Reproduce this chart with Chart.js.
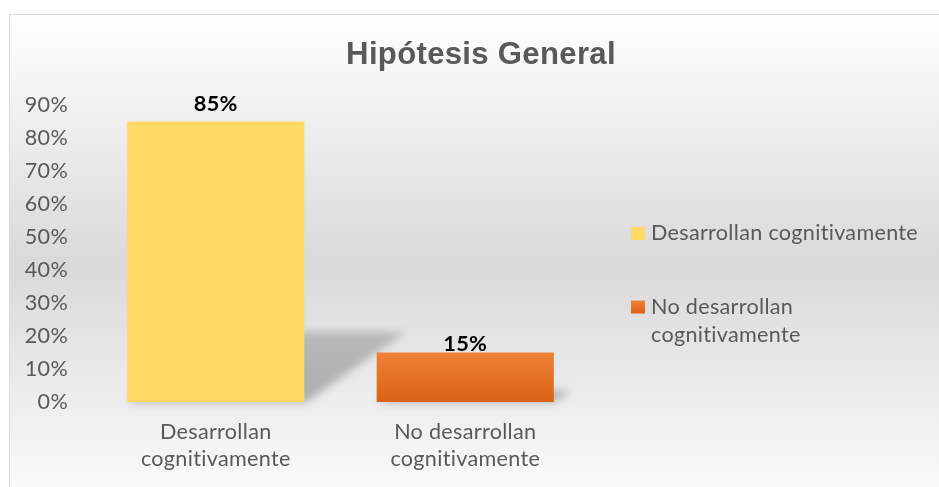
<!DOCTYPE html>
<html><head><meta charset="utf-8">
<script src="https://cdn.jsdelivr.net/npm/chart.js@4.4.0/dist/chart.umd.min.js"></script>
<style>
html,body{margin:0;padding:0;width:939px;height:487px;overflow:hidden;background:#fff;}
#bg{position:absolute;left:9px;top:14px;width:940px;height:480px;border-top:1px solid #d9d9d9;border-left:1px solid #d9d9d9;background:linear-gradient(to bottom,#ffffff 0%,#d9d9d9 52%,#fbfbfb 100%);}
#wrap{position:absolute;left:0;top:0;width:939px;height:487px;}
</style></head><body>
<div id="bg"></div>
<div id="wrap"><canvas id="c" width="939" height="487"></canvas></div>
<script>
const chartTitle = 'Hipótesis General';
const categories = [['Desarrollan','cognitivamente'],['No desarrollan','cognitivamente']];
const legendLabels = [['Desarrollan cognitivamente'],['No desarrollan','cognitivamente']];
const values = [85, 15];
const yMax = 90;
const yStep = 10;

const FAMILY = 'Lato, "Liberation Sans", sans-serif';
const TITLE_FAMILY = '"Liberation Sans", Arial, sans-serif';
const SPACING = '0.3px';
function fitSize(text, weight, family, target){
  const c = document.createElement('canvas').getContext('2d');
  c.letterSpacing = SPACING;
  c.font = weight + ' 100px ' + family;
  const w100 = c.measureText(text).width;
  c.font = weight + ' 22px ' + family;
  // refine with spacing accounted at approx size
  const w22 = c.measureText(text).width;
  const perPx = w22 / 22;
  return target / perPx;
}
const bodySize = fitSize('Desarrollan cognitivamente', 'normal', FAMILY, 267);
const labelSize = fitSize('85%', 'bold', FAMILY, 44);
const titleSize = fitSize(chartTitle, 'bold', TITLE_FAMILY, 272);
const textColor = '#595959';

function orangeGrad(ctx, top, bot){
  const g = ctx.createLinearGradient(0, top, 0, bot);
  g.addColorStop(0, '#EE8236');
  g.addColorStop(1, '#DA6114');
  return g;
}
const yellow = '#FFD966';

const spacingPlugin = {
  id: 'spacing',
  beforeDraw(chart){ chart.ctx.letterSpacing = SPACING; }
};

const titlePlugin = {
  id: 'centerTitle',
  afterDraw(chart, args, opts){
    const ctx = chart.ctx;
    ctx.save();
    ctx.font = 'bold ' + titleSize + 'px ' + TITLE_FAMILY;
    ctx.fillStyle = textColor;
    ctx.textAlign = 'center';
    ctx.textBaseline = 'middle';
    ctx.fillText(chartTitle, opts.x, opts.y);
    ctx.restore();
  }
};

const shadowPlugin = {
  id: 'barShadow',
  beforeDatasetsDraw(chart){
    const ctx = chart.ctx;
    const meta = chart.getDatasetMeta(0);
    ctx.save();
    ctx.filter = 'blur(4px)';
    meta.data.forEach(bar => {
      const base = bar.base, h = base - bar.y, w = bar.width;
      const top = base - h * 0.25, skew = h * 0.36;
      const g = ctx.createLinearGradient(0, top, 0, base);
      g.addColorStop(0, 'rgba(0,0,0,0.19)');
      g.addColorStop(1, 'rgba(0,0,0,0.27)');
      ctx.fillStyle = g;
      ctx.beginPath();
      ctx.moveTo(bar.x - w/2, base);
      ctx.lineTo(bar.x + w/2 + 2, base);
      ctx.lineTo(bar.x + w/2 + skew, top);
      ctx.lineTo(bar.x - w/2 + skew, top);
      ctx.closePath();
      ctx.fill();
    });
    ctx.restore();
  }
};

const labelPlugin = {
  id: 'valLabels',
  afterDatasetsDraw(chart, args, opts){
    const ctx = chart.ctx;
    const meta = chart.getDatasetMeta(0);
    ctx.save();
    ctx.font = 'bold ' + labelSize + 'px ' + FAMILY;
    ctx.fillStyle = '#000';
    ctx.textAlign = 'center';
    ctx.textBaseline = 'middle';
    meta.data.forEach((bar, i) => {
      ctx.fillText(values[i] + '%', bar.x, bar.y - opts.offsets[i]);
    });
    ctx.restore();
  }
};

const legendPlugin = {
  id: 'sideLegend',
  afterDraw(chart, args, opts){
    const ctx = chart.ctx;
    ctx.save();
    ctx.font = bodySize + 'px ' + FAMILY;
    ctx.textBaseline = 'middle';
    ctx.textAlign = 'left';
    legendLabels.forEach((lines, i) => {
      const y0 = opts.itemY[i];
      const bx = opts.x, by = y0 - 6.5;
      ctx.fillStyle = i === 0 ? yellow : orangeGrad(ctx, by, by + 13);
      ctx.fillRect(bx, by, 14, 13);
      ctx.fillStyle = textColor;
      lines.forEach((t, j) => ctx.fillText(t, bx + 20, y0 + j * opts.lineGap));
    });
    ctx.restore();
  }
};

new Chart(document.getElementById('c'), {
  type: 'bar',
  data: {
    labels: categories,
    datasets: [{
      data: values,
      backgroundColor: (c) => {
        if (c.dataIndex === 0) return yellow;
        const ch = c.chart;
        if (!ch.chartArea || !ch.scales.y) return '#E46C0A';
        const y = ch.scales.y;
        return orangeGrad(ch.ctx, y.getPixelForValue(values[1]), y.getPixelForValue(0));
      },
      borderWidth: 0,
      categoryPercentage: 1,
      barPercentage: 0.71
    }]
  },
  options: {
    responsive: false,
    animation: false,
    devicePixelRatio: 1,
    layout: { padding: { left: 0, right: 349, top: 105, bottom: 0 } },
    plugins: {
      legend: { display: false },
      tooltip: { enabled: false },
      title: { display: false },
      centerTitle: { x: 481, y: 55 },
      valLabels: { offsets: [18, 9] },
      sideLegend: { x: 631, itemY: [233.5, 307], lineGap: 28 }
    },
    scales: {
      x: {
        grid: { display: false, drawTicks: false },
        border: { display: false },
        ticks: { color: textColor, font: { family: FAMILY, size: bodySize, lineHeight: 1.25 }, padding: 17, maxRotation: 0 },
        afterFit(s){ s.height = 85; }
      },
      y: {
        min: 0, max: yMax,
        grid: { display: false, drawTicks: false },
        border: { display: false },
        ticks: { stepSize: yStep, color: textColor, font: { family: FAMILY, size: bodySize }, padding: 23, callback: v => v + '%' },
        afterFit(s){ s.width = 91; }
      }
    }
  },
  plugins: [spacingPlugin, shadowPlugin, labelPlugin, legendPlugin, titlePlugin]
});
</script>
</body></html>
